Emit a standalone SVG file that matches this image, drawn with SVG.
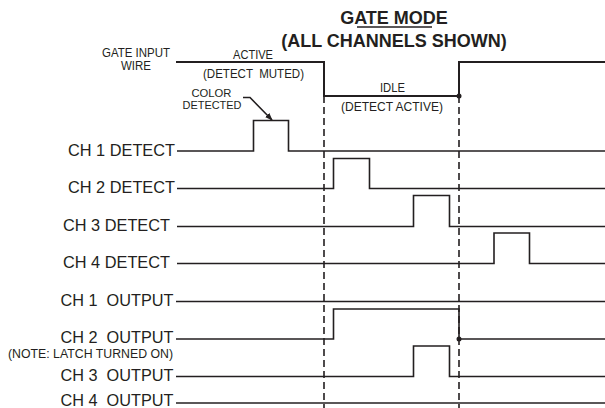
<svg xmlns="http://www.w3.org/2000/svg" width="605" height="408" viewBox="0 0 605 408">
<style>
text{white-space:pre}
.sig{fill:none;stroke:#231f20;stroke-width:1.6;stroke-linejoin:miter}
.dash{fill:none;stroke:#231f20;stroke-width:1.6;stroke-dasharray:7 4}
.lbl{font-family:"Liberation Sans",Arial,sans-serif;font-size:17px;fill:#231f20;text-anchor:end}
.sm{font-family:"Liberation Sans",Arial,sans-serif;font-size:12px;fill:#231f20;text-anchor:middle}
.title{font-family:"Liberation Sans",Arial,sans-serif;font-size:18px;font-weight:bold;fill:#231f20;text-anchor:middle}
</style>
<defs>
<marker id="arr" markerWidth="8" markerHeight="8" refX="7" refY="4" orient="auto" markerUnits="userSpaceOnUse">
<path d="M0,1 L8,4 L0,7 Z" fill="#231f20"/>
</marker>
</defs>
<rect width="605" height="408" fill="#fff"/>
<g id="title">
<text class="title" x="394" y="24">GATE MODE</text>
<line x1="357" y1="27" x2="432" y2="27" stroke="#231f20" stroke-width="1.6"/>
<text class="title" x="394" y="46.5">(ALL CHANNELS SHOWN)</text>
</g>
<g id="connectors">
<line class="dash" x1="324" y1="96" x2="324" y2="408"/>
<line class="dash" x1="459" y1="96" x2="459" y2="408"/>
<path class="sig" d="M243,97.5 L250,97.5 L272,120" marker-end="url(#arr)"/>
</g>
<g id="gate-input">
<text class="sm" x="136" y="56.5" textLength="68" lengthAdjust="spacingAndGlyphs">GATE INPUT</text>
<text class="sm" x="136" y="69.5" textLength="30" lengthAdjust="spacingAndGlyphs">WIRE</text>
<text class="sm" x="253" y="59" textLength="40" lengthAdjust="spacingAndGlyphs">ACTIVE</text>
<text class="sm" x="253.5" y="77.5" textLength="101" lengthAdjust="spacingAndGlyphs">(DETECT  MUTED)</text>
<text class="sm" x="392.5" y="91.5" textLength="25" lengthAdjust="spacingAndGlyphs">IDLE</text>
<text class="sm" x="392" y="111" textLength="102" lengthAdjust="spacingAndGlyphs">(DETECT ACTIVE)</text>
<path class="sig" style="stroke-width:2" d="M176,62 H324 V96 H459 V62 H605"/>
<circle cx="459" cy="96" r="2.5" fill="#231f20"/>
</g>
<g id="color-detected">
<text class="sm" style="font-size:11.5px" x="211.5" y="96.5" textLength="40" lengthAdjust="spacingAndGlyphs">COLOR</text>
<text class="sm" style="font-size:11.5px" x="212" y="108.5" textLength="59" lengthAdjust="spacingAndGlyphs">DETECTED</text>
</g>
<g id="ch1-detect">
<text class="lbl" x="175" y="155.5" textLength="107" lengthAdjust="spacingAndGlyphs">CH 1 DETECT</text>
<path class="sig" d="M177,151 H253.5 V120.5 H288.5 V151 H605"/>
</g>
<g id="ch2-detect">
<text class="lbl" x="175" y="193" textLength="107" lengthAdjust="spacingAndGlyphs">CH 2 DETECT</text>
<path class="sig" d="M177,188.5 H333.5 V158.5 H369.5 V188.5 H605"/>
</g>
<g id="ch3-detect">
<text class="lbl" x="170" y="231" textLength="107" lengthAdjust="spacingAndGlyphs">CH 3 DETECT</text>
<path class="sig" d="M177,226.5 H413.5 V195.5 H449.5 V226.5 H605"/>
</g>
<g id="ch4-detect">
<text class="lbl" x="170" y="267.5" textLength="107" lengthAdjust="spacingAndGlyphs">CH 4 DETECT</text>
<path class="sig" d="M177,263.5 H494 V233 H529.5 V263.5 H605"/>
</g>
<g id="ch1-output">
<text class="lbl" x="173.5" y="305.5" textLength="113" lengthAdjust="spacingAndGlyphs">CH 1  OUTPUT</text>
<path class="sig" d="M176,301.5 H605"/>
</g>
<g id="ch2-output">
<text class="lbl" x="173.5" y="343" textLength="113" lengthAdjust="spacingAndGlyphs">CH 2  OUTPUT</text>
<text class="sm" style="text-anchor:start;font-size:12.5px" x="8" y="357.5" textLength="165" lengthAdjust="spacingAndGlyphs">(NOTE: LATCH TURNED ON)</text>
<path class="sig" d="M176,339 H333.5 V309 H459 V339 H605"/>
<circle cx="459" cy="339" r="2.5" fill="#231f20"/>
</g>
<g id="ch3-output">
<text class="lbl" x="173.5" y="380.5" textLength="113" lengthAdjust="spacingAndGlyphs">CH 3  OUTPUT</text>
<path class="sig" d="M176,376.5 H413.5 V346 H449.5 V376.5 H605"/>
</g>
<g id="ch4-output">
<text class="lbl" x="173.5" y="405.5" textLength="113" lengthAdjust="spacingAndGlyphs">CH 4  OUTPUT</text>
<path class="sig" d="M176,403 H605"/>
</g>
</svg>
